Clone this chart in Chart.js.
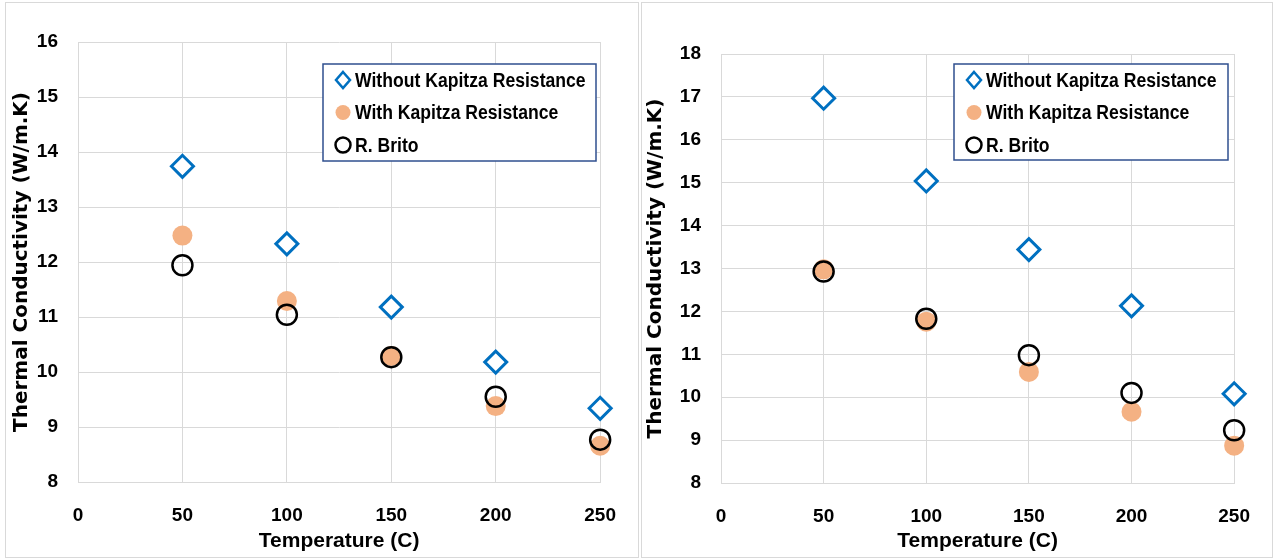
<!DOCTYPE html>
<html>
<head>
<meta charset="utf-8">
<script src="https://cdn.jsdelivr.net/npm/chart.js@4.4.0/dist/chart.umd.min.js"></script>
<style>
body { margin: 0; background: #fff; width: 1276px; height: 558px; position: relative; overflow: hidden; }
.box { position: absolute; border: 1px solid #d9d9d9; box-sizing: border-box; }
.box canvas { position: absolute; left: 0; top: 0; }
</style>
</head>
<body>
<div class="box" style="left:5px;top:2px;width:634px;height:556px"><canvas id="leftChart" width="632" height="554"></canvas></div>
<div class="box" style="left:641px;top:2px;width:632px;height:556px"><canvas id="rightChart" width="630" height="554"></canvas></div>
<script>
const temps = [50, 100, 150, 200, 250];
const seriesNames = ['Without Kapitza Resistance', 'With Kapitza Resistance', 'R. Brito'];

const leftWithout = [13.74, 12.33, 11.18, 10.18, 9.34];
const leftWith = [12.48, 11.29, 10.29, 9.38, 8.66];
const leftBrito = [11.94, 11.04, 10.27, 9.55, 8.77];

const rightWithout = [16.97, 15.04, 13.44, 12.13, 10.08];
const rightWith = [12.98, 11.76, 10.59, 9.66, 8.87];
const rightBrito = [12.93, 11.83, 10.98, 10.10, 9.23];

const xRange = [0, 250];
const leftYRange = [8, 16];
const rightYRange = [8, 18];

const sans = "'Liberation Sans', Arial, sans-serif";

function pts(vals) {
    return vals.map((v, i) => ({ x: temps[i], y: v }));
}

// legend drawn inside the plot, like the Excel original
const legendBox = {
    id: 'legendBox',
    afterDatasetsDraw(chart, args, opts) {
        const ctx = chart.ctx;
        const a = chart.chartArea;
        const x = a.left + opts.x, y = a.top + opts.y;
        ctx.save();
        ctx.fillStyle = '#fff';
        ctx.fillRect(x, y, opts.w, opts.h);
        ctx.strokeStyle = '#2f4f8f';
        ctx.lineWidth = 1.5;
        ctx.strokeRect(x, y, opts.w, opts.h);
        ctx.font = 'bold 20px ' + sans;
        ctx.textBaseline = 'middle';
        chart.data.datasets.forEach((ds, i) => {
            const cy = y + 16 + i * 32.5;
            const mx = x + 20;
            ctx.beginPath();
            if (ds.pointStyle === 'rectRot') {
                ctx.moveTo(mx, cy - 8); ctx.lineTo(mx + 7, cy); ctx.lineTo(mx, cy + 8); ctx.lineTo(mx - 7, cy); ctx.closePath();
            } else {
                ctx.arc(mx, cy, 7.5, 0, Math.PI * 2);
            }
            ctx.fillStyle = ds.backgroundColor;
            ctx.fill();
            if (ds.borderWidth > 0) {
                ctx.strokeStyle = ds.borderColor;
                ctx.lineWidth = 2.5;
                ctx.stroke();
            }
            // squeeze the text a bit, the original uses a condensed face
            ctx.save();
            ctx.translate(x + 32, cy + 1);
            ctx.scale(0.88, 1.05);
            ctx.fillStyle = '#000';
            ctx.fillText(ds.label, 0, 0);
            ctx.restore();
        });
        ctx.restore();
    }
};

function makeChart(id, without, withK, brito, yRange, yWidth, pad, legendPos) {
    return new Chart(document.getElementById(id).getContext('2d'), {
        type: 'scatter',
        data: {
            datasets: [
                {
                    label: seriesNames[0],
                    data: pts(without),
                    pointStyle: 'rectRot',
                    pointRadius: 11,
                    pointBorderWidth: 3,
                    borderWidth: 3,
                    borderColor: '#0070c0',
                    backgroundColor: '#ffffff',
                    order: 3,
                    clip: false
                },
                {
                    label: seriesNames[1],
                    data: pts(withK),
                    pointStyle: 'circle',
                    pointRadius: 10,
                    borderWidth: 0,
                    pointBorderWidth: 0,
                    borderColor: '#f4b183',
                    backgroundColor: '#f4b183',
                    order: 2,
                    clip: false
                },
                {
                    label: seriesNames[2],
                    data: pts(brito),
                    pointStyle: 'circle',
                    pointRadius: 10,
                    pointBorderWidth: 2.5,
                    borderWidth: 2.5,
                    borderColor: '#000000',
                    backgroundColor: 'rgba(0,0,0,0)',
                    order: 1,
                    clip: false
                }
            ]
        },
        options: {
            responsive: false,
            animation: false,
            layout: { padding: pad },
            plugins: {
                legend: { display: false },
                tooltip: { enabled: false },
                legendBox: legendPos
            },
            scales: {
                x: {
                    type: 'linear',
                    min: xRange[0],
                    max: xRange[1],
                    afterFit: s => { s.height = pad.xh; },
                    ticks: { stepSize: 50, padding: 22, color: '#000', font: { family: sans, size: 19, weight: 'bold' } },
                    grid: { color: '#d9d9d9', drawTicks: false },
                    border: { color: '#d9d9d9' },
                    title: { display: true, text: 'Temperature (C)', color: '#000', padding: { top: 0, bottom: 3 }, font: { family: sans, size: 21, weight: 'bold' } }
                },
                y: {
                    min: yRange[0],
                    max: yRange[1],
                    afterFit: s => { s.width = yWidth; },
                    ticks: { stepSize: 1, padding: 20, color: '#000', font: { family: sans, size: 19, weight: 'bold' } },
                    grid: { color: '#d9d9d9', drawTicks: false },
                    border: { color: '#d9d9d9' },
                    title: { display: true, text: 'Thermal Conductivity (W/m.K)', color: '#000', padding: { top: pad.tp, bottom: 0 }, font: { family: "'DejaVu Sans', sans-serif", size: 20, weight: 'bold' } }
                }
            }
        },
        plugins: [legendBox]
    });
}

makeChart('leftChart', leftWithout, leftWith, leftBrito, leftYRange, 72,
    { top: 39, right: 20, left: 0, bottom: 0, xh: 75, tp: 4 },
    { x: 245, y: 22, w: 273, h: 97 });
makeChart('rightChart', rightWithout, rightWith, rightBrito, rightYRange, 79,
    { top: 51, right: 21, left: 0, bottom: 0, xh: 74, tp: 2 },
    { x: 233, y: 10, w: 274, h: 96 });
</script>
</body>
</html>
